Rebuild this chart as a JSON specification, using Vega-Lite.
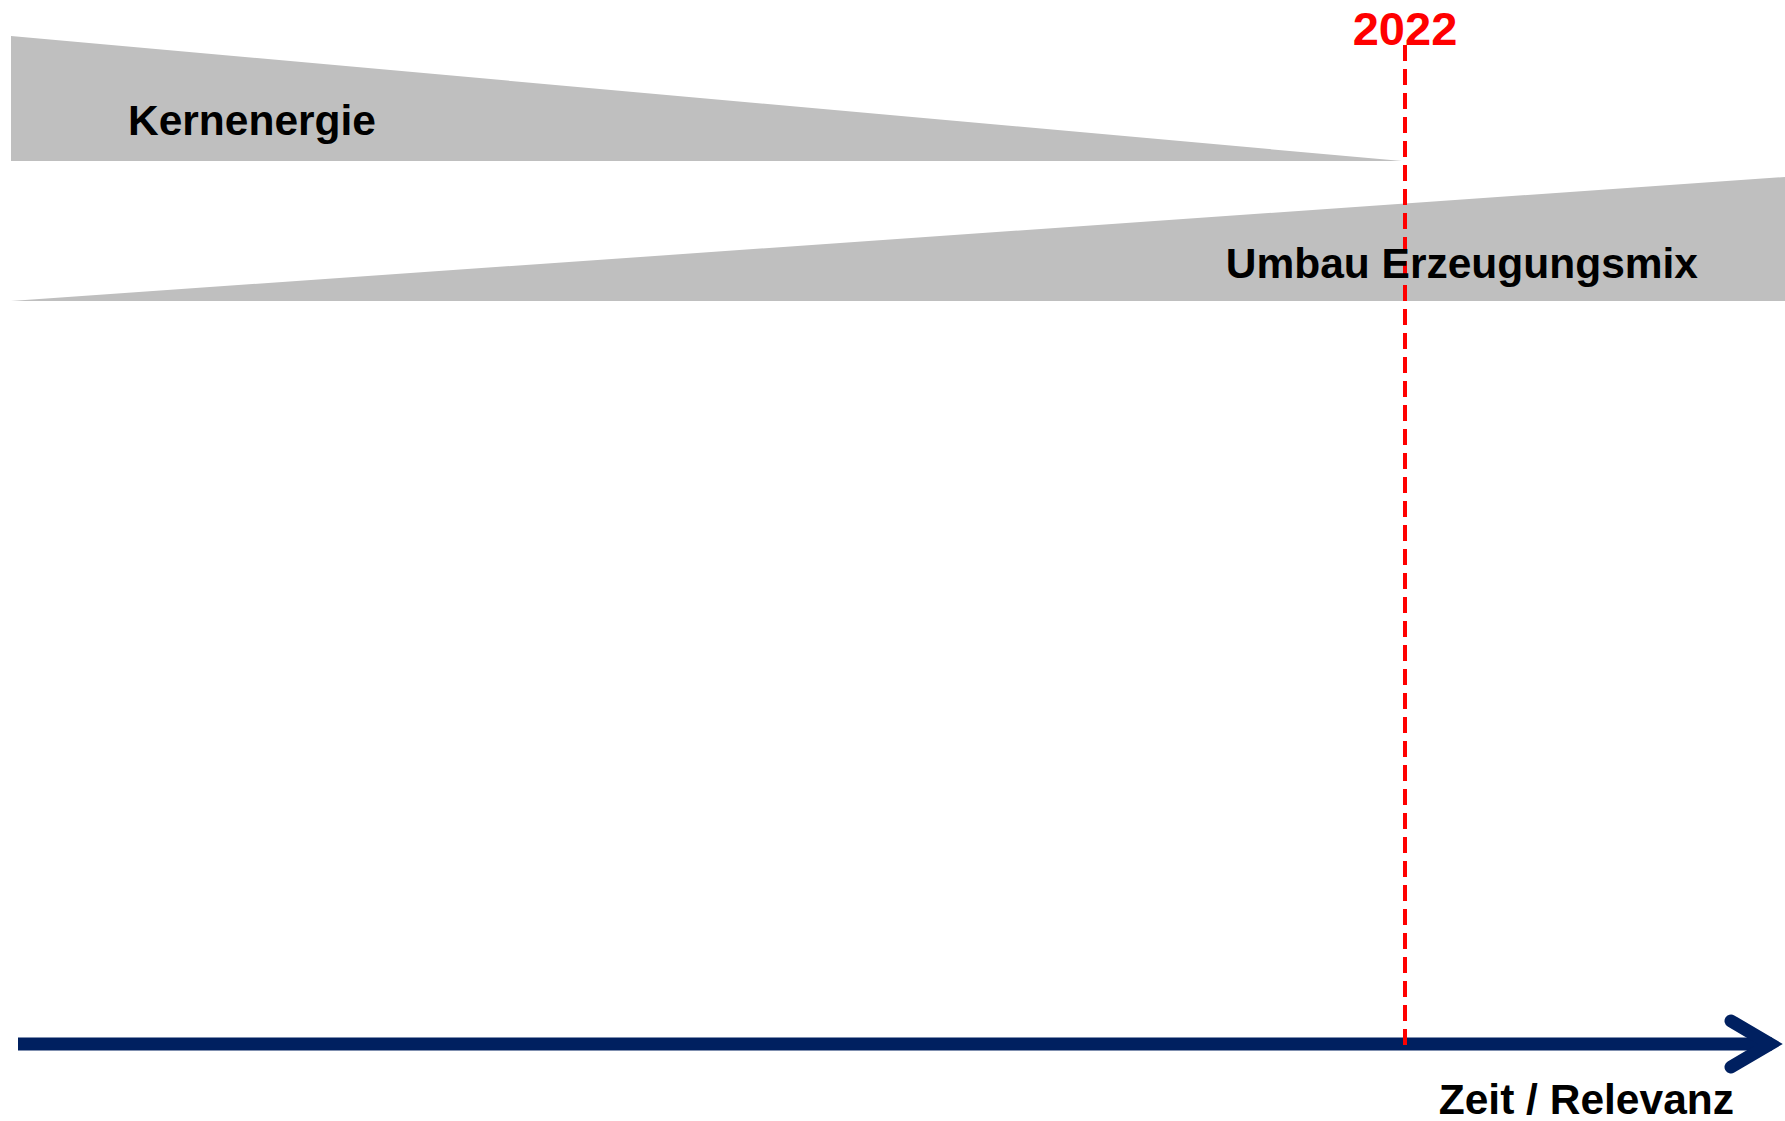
{
  "$schema": "https://vega.github.io/schema/vega-lite/v6.json",
  "width": 1785,
  "height": 1121,
  "padding": 0,
  "autosize": {"type": "none"},
  "background": "white",
  "config": {"view": {"stroke": null}},
  "datasets": {
    "wedges": [
      {"shape": "Kernenergie", "x": 11, "top": 36, "bottom": 161},
      {"shape": "Kernenergie", "x": 1402, "top": 161, "bottom": 161},
      {"shape": "Umbau", "x": 11, "top": 301, "bottom": 301},
      {"shape": "Umbau", "x": 1785, "top": 177, "bottom": 301}
    ],
    "shaft": [
      {"x": 18, "y": 1044},
      {"x": 1772, "y": 1044}
    ],
    "head": [
      {"o": 1, "x": 1731, "y": 1021},
      {"o": 2, "x": 1770, "y": 1044},
      {"o": 3, "x": 1731, "y": 1067}
    ],
    "marker": [
      {"label": "2022", "x": 1405, "y": 45, "y2": 1048}
    ],
    "labels": [
      {"text": "Kernenergie", "x": 128, "y": 135, "align": "left"},
      {"text": "Umbau Erzeugungsmix", "x": 1698, "y": 278, "align": "right"},
      {"text": "Zeit / Relevanz", "x": 1734, "y": 1114, "align": "right"}
    ]
  },
  "layer": [
    {
      "data": {"name": "wedges"},
      "mark": {"type": "area", "color": "#bfbfbf", "interpolate": "linear"},
      "encoding": {
        "detail": {"field": "shape"},
        "x": {"field": "x", "type": "quantitative", "scale": {"domain": [0, 1785], "nice": false, "zero": false}, "axis": null},
        "y": {"field": "top", "type": "quantitative", "scale": {"domain": [0, 1121], "nice": false, "zero": false, "reverse": true}, "axis": null},
        "y2": {"field": "bottom"}
      }
    },
    {
      "data": {"name": "shaft"},
      "mark": {"type": "line", "color": "#002060", "strokeWidth": 13, "strokeCap": "butt"},
      "encoding": {
        "x": {"field": "x", "type": "quantitative"},
        "y": {"field": "y", "type": "quantitative"}
      }
    },
    {
      "data": {"name": "head"},
      "mark": {"type": "line", "color": "#002060", "strokeWidth": 13, "strokeCap": "round", "strokeJoin": "miter"},
      "encoding": {
        "x": {"field": "x", "type": "quantitative"},
        "y": {"field": "y", "type": "quantitative"},
        "order": {"field": "o", "type": "quantitative"}
      }
    },
    {
      "data": {"name": "marker"},
      "mark": {"type": "rule", "color": "#ff0000", "strokeWidth": 4, "strokeDash": [16, 8]},
      "encoding": {
        "x": {"field": "x", "type": "quantitative"},
        "y": {"field": "y", "type": "quantitative"},
        "y2": {"field": "y2"}
      }
    },
    {
      "data": {"name": "marker"},
      "mark": {"type": "text", "color": "#ff0000", "font": "Liberation Sans", "fontWeight": "bold", "fontSize": 47, "align": "center", "baseline": "alphabetic"},
      "encoding": {
        "x": {"field": "x", "type": "quantitative"},
        "y": {"field": "y", "type": "quantitative"},
        "text": {"field": "label"}
      }
    },
    {
      "data": {"name": "labels"},
      "transform": [{"filter": "datum.align == 'left'"}],
      "mark": {"type": "text", "color": "#000000", "font": "Liberation Sans", "fontWeight": "bold", "fontSize": 42.5, "align": "left", "baseline": "alphabetic"},
      "encoding": {
        "x": {"field": "x", "type": "quantitative"},
        "y": {"field": "y", "type": "quantitative"},
        "text": {"field": "text"}
      }
    },
    {
      "data": {"name": "labels"},
      "transform": [{"filter": "datum.align == 'right'"}],
      "mark": {"type": "text", "color": "#000000", "font": "Liberation Sans", "fontWeight": "bold", "fontSize": 42.5, "align": "right", "baseline": "alphabetic"},
      "encoding": {
        "x": {"field": "x", "type": "quantitative"},
        "y": {"field": "y", "type": "quantitative"},
        "text": {"field": "text"}
      }
    }
  ]
}
